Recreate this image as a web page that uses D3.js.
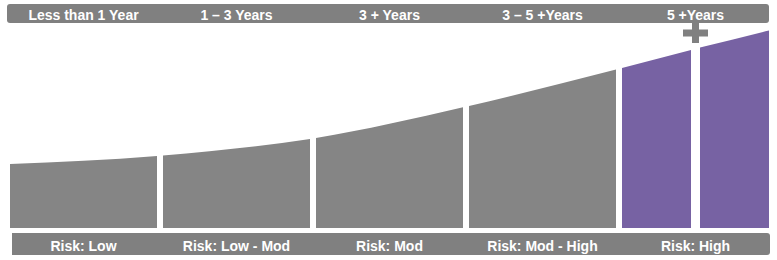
<!DOCTYPE html>
<html><head><meta charset="utf-8">
<script src="https://cdn.jsdelivr.net/npm/d3@7"></script>
<style>html,body{margin:0;padding:0;background:#fff;}svg{display:block;}</style>
</head><body>
<svg id="chart" width="777" height="260"></svg>
<script>
// ---- data ----
const horizons = ["Less than 1 Year", "1 \u2013 3 Years", "3 + Years", "3 \u2013 5 +Years", "5 +Years"];
const risks = ["Risk: Low", "Risk: Low - Mod", "Risk: Mod", "Risk: Mod - High", "Risk: High"];
const highlighted = ["5 +Years"];            // categories drawn in purple
const splitParts = ["a", "b"];               // the last horizon is split in two bars
const curvePos = [0, 1, 2, 3, 4, 4.5, 5];    // position along horizon axis (category units)
const curveVal = [64, 72.5, 90, 122, 160, 180, 199]; // return potential

// ---- layout ----
const W = 777, H = 260;
const svg = d3.select("#chart");
const GRAY = "#858585", BANNER = "#808080", PURPLE = "#7762a3";
const baseY = 228;

const x = d3.scaleBand().domain(horizons).range([10, 769]).paddingInner(6 / 153).paddingOuter(0);
const xLin = d3.scaleLinear().domain([0, 5]).range([10, 10 + 5 * x.step()]);
const y = d3.scaleLinear().domain([0, 200]).range([baseY, 28]);

// build bars
const bars = [];
horizons.forEach((h, i) => {
  if (highlighted.includes(h)) {
    const sub = d3.scaleBand().domain(splitParts).range([x(h), x(h) + x.bandwidth()]).paddingInner(9 / 78);
    splitParts.forEach(p => bars.push({ cat: h, x0: sub(p), w: sub.bandwidth(), hi: true }));
  } else {
    bars.push({ cat: h, x0: x(h), w: x.bandwidth(), hi: false });
  }
});

const pts = curvePos.map((p, i) => [p, curveVal[i]]);
const area = d3.area()
  .x(d => xLin(d[0]))
  .y0(baseY)
  .y1(d => y(d[1]))
  .curve(d3.curveMonotoneX);

const defs = svg.append("defs");
bars.forEach((b, i) => {
  defs.append("clipPath").attr("id", "clip" + i)
    .append("rect").attr("x", b.x0).attr("y", 0).attr("width", b.w).attr("height", baseY);
});

svg.append("g").selectAll("path.bar").data(bars).join("path")
  .attr("class", "bar")
  .attr("d", area(pts))
  .attr("clip-path", (d, i) => `url(#clip${i})`)
  .attr("fill", d => d.hi ? PURPLE : GRAY);

// top banner
svg.append("rect").attr("x", 7).attr("y", 4).attr("width", 762).attr("height", 19)
  .attr("rx", 3).attr("fill", BANNER);

svg.append("g").selectAll("text").data(horizons).join("text")
  .attr("x", d => x(d) + x.bandwidth() / 2)
  .attr("y", 19.5)
  .attr("text-anchor", "middle")
  .attr("fill", "#fff")
  .style("font", "bold 14px 'Liberation Sans', Arial, sans-serif")
  .text(d => d);

// bottom banner (square left corners, rounded right)
const bx0 = 12, bx1 = 770, by0 = 233, by1 = 255, r = 3;
svg.append("path")
  .attr("d", `M${bx0},${by0}H${bx1 - r}Q${bx1},${by0} ${bx1},${by0 + r}V${by1 - r}Q${bx1},${by1} ${bx1 - r},${by1}H${bx0}Z`)
  .attr("fill", BANNER);

svg.append("g").selectAll("text").data(risks).join("text")
  .attr("x", (d, i) => x(horizons[i]) + x.bandwidth() / 2)
  .attr("y", 250.5)
  .attr("text-anchor", "middle")
  .attr("fill", "#fff")
  .style("font", "bold 14px 'Liberation Sans', Arial, sans-serif")
  .text(d => d);

// plus sign between the split bars
const hb = bars.filter(b => b.hi);
const cx = (hb[0].x0 + hb[0].w + hb[1].x0) / 2, cy = 33;
const plus = svg.append("g").attr("fill", BANNER);
plus.append("rect").attr("x", cx - 12.5).attr("y", cy - 3.5).attr("width", 25).attr("height", 7);
plus.append("rect").attr("x", cx - 3.5).attr("y", cy - 10).attr("width", 7).attr("height", 20);
</script>
</body></html>
